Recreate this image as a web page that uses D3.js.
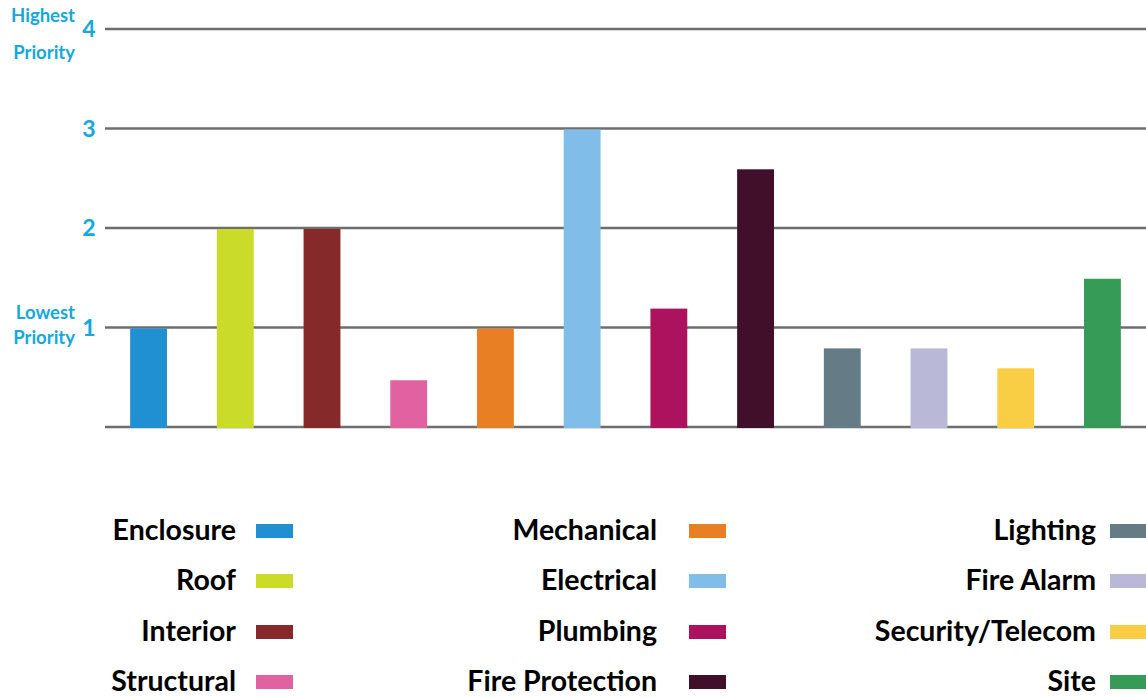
<!DOCTYPE html>
<html>
<head>
<meta charset="utf-8">
<script src="https://cdn.jsdelivr.net/npm/d3@7"></script>
<style>
  body { margin: 0; background: #fff; }
  svg { display: block; font-family: Lato, "Open Sans", sans-serif; }
</style>
</head>
<body>
<div id="chart"></div>
<script>
// Chart data
const categories = ["Enclosure", "Roof", "Interior", "Structural", "Mechanical", "Electrical",
  "Plumbing", "Fire Protection", "Lighting", "Fire Alarm", "Security/Telecom", "Site"];
const values = [1, 2, 2, 0.48, 1, 3, 1.2, 2.6, 0.8, 0.8, 0.6, 1.5];
const colors = ["#2190d2", "#cbdb2a", "#85292b", "#e062a0", "#e87f24", "#80bde8",
  "#ad125f", "#410f29", "#657c87", "#b9b9d7", "#f9ce45", "#359b57"];
const yTicks = [1, 2, 3, 4];

const width = 1146, height = 698;
const svg = d3.select("#chart").append("svg")
  .attr("width", width)
  .attr("height", height);

// Scales
const x = d3.scaleBand()
  .domain(categories)
  .range([105, 1146])
  .paddingInner(0.575)
  .paddingOuter(0.29);

const y = d3.scaleLinear()
  .domain([0, 4])
  .range([427, 29]);

// Gridlines (including the zero line)
svg.append("g")
  .selectAll("line")
  .data([0].concat(yTicks))
  .join("line")
  .attr("x1", 105)
  .attr("x2", width)
  .attr("y1", d => y(d))
  .attr("y2", d => y(d))
  .attr("stroke", "#6e6e6e")
  .attr("stroke-width", 2.5);

// Y axis numbers
const blue = "#14a8e0";
svg.append("g")
  .selectAll("text")
  .data(yTicks)
  .join("text")
  .attr("x", 89)
  .attr("y", d => y(d))
  .attr("dy", "0.36em")
  .attr("text-anchor", "middle")
  .attr("fill", blue)
  .attr("font-weight", 700)
  .attr("font-size", 23)
  .text(d => d);

// Priority annotations
const notes = [
  { lines: ["Highest", "Priority"], ys: [15, 52] },
  { lines: ["Lowest", "Priority"], ys: [312, 337] }
];
notes.forEach(n => {
  n.lines.forEach((t, i) => {
    svg.append("text")
      .attr("x", 75)
      .attr("y", n.ys[i])
      .attr("dy", "0.36em")
      .attr("text-anchor", "end")
      .attr("fill", blue)
      .attr("font-weight", 700)
      .attr("font-size", 18.5)
      .text(t);
  });
});

// Bars
svg.append("g")
  .selectAll("rect")
  .data(categories)
  .join("rect")
  .attr("x", d => x(d))
  .attr("width", x.bandwidth())
  .attr("y", (d, i) => y(values[i]) + 1)
  .attr("height", (d, i) => y(0) - y(values[i]))
  .attr("fill", (d, i) => colors[i]);

// Legend: 3 columns x 4 rows
const colTextRight = [236, 657, 1096];
const colSwatchX = [256, 689, 1110];
const rowY = [530, 580, 631, 681];

const legend = svg.append("g");
categories.forEach((c, i) => {
  const col = Math.floor(i / 4), row = i % 4;
  legend.append("text")
    .attr("x", colTextRight[col])
    .attr("y", rowY[row])
    .attr("dy", "0.36em")
    .attr("text-anchor", "end")
    .attr("font-weight", 700)
    .attr("font-size", 28.5)
    .attr("fill", "#000")
    .text(c);
  legend.append("rect")
    .attr("x", colSwatchX[col])
    .attr("y", rowY[row] - 6)
    .attr("width", 37)
    .attr("height", 14)
    .attr("fill", colors[i]);
});
</script>
</body>
</html>
